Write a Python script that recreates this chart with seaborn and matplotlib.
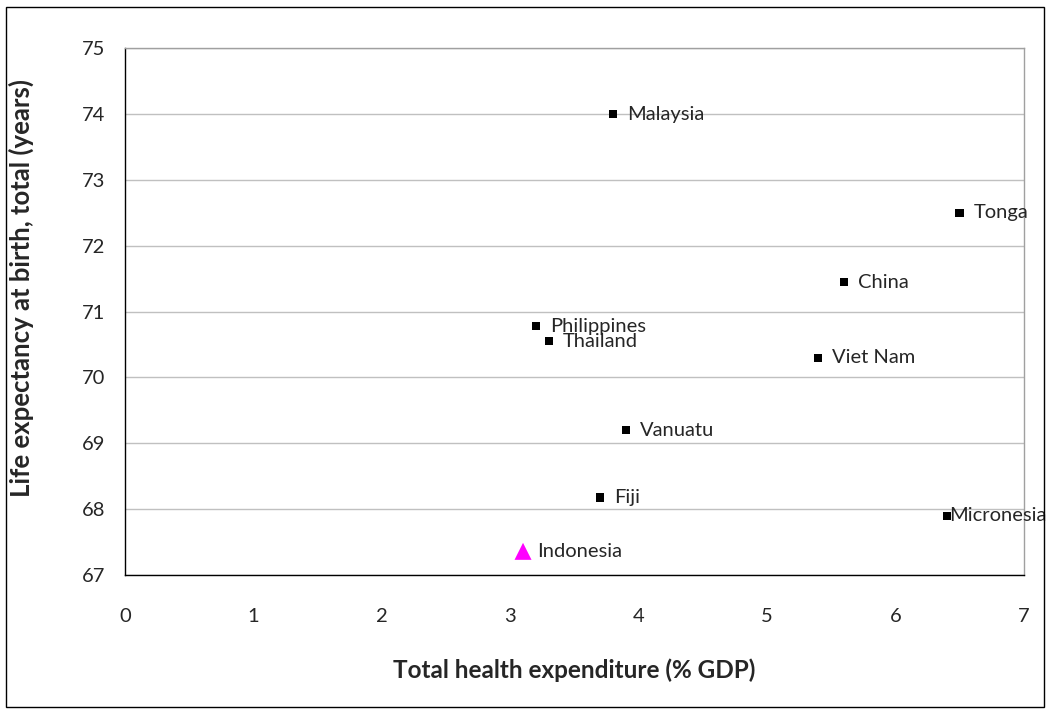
import matplotlib
matplotlib.use("Agg")
import matplotlib.pyplot as plt
import seaborn as sns
import pandas as pd
from matplotlib.patches import Rectangle

# Data
countries = ['Malaysia', 'Tonga', 'China', 'Philippines', 'Thailand',
             'Viet Nam', 'Vanuatu', 'Fiji', 'Micronesia']
health_exp = [3.8, 6.5, 5.6, 3.2, 3.3, 5.4, 3.9, 3.7, 6.4]
life_exp = [74.0, 72.5, 71.45, 70.78, 70.55, 70.3, 69.2, 68.18, 67.9]

highlight_country = ['Indonesia']
highlight_exp = [3.1]
highlight_life = [67.36]

x_ticks = [0, 1, 2, 3, 4, 5, 6, 7]
y_ticks = [67, 68, 69, 70, 71, 72, 73, 74, 75]

df = pd.DataFrame({'country': countries, 'exp': health_exp, 'life': life_exp})
df_hi = pd.DataFrame({'country': highlight_country, 'exp': highlight_exp, 'life': highlight_life})

sns.set_style('white')
plt.rcParams['font.family'] = ['Lato', 'DejaVu Sans']

fig = plt.figure(figsize=(10.49, 7.13), dpi=100)
ax = fig.add_axes([0.1192, 0.1935, 0.8567, 0.7388])

sns.scatterplot(data=df, x='exp', y='life', marker='s', color='black',
                s=36, edgecolor='none', ax=ax, zorder=3)
sns.scatterplot(data=df_hi, x='exp', y='life', marker='^', color='#ff00ff',
                s=150, edgecolor='none', ax=ax, zorder=3)

# point labels (Micronesia gets pushed left by the plot edge)
for _, row in df.iterrows():
    dx = 1.5 if row['country'] == 'Micronesia' else 10
    ax.annotate(row['country'], (row['exp'], row['life']), xytext=(dx, 0),
                textcoords='offset points', va='center', ha='left', fontsize=14.5,
                annotation_clip=False, zorder=4)
for _, row in df_hi.iterrows():
    ax.annotate(row['country'], (row['exp'], row['life']), xytext=(10, 0),
                textcoords='offset points', va='center', ha='left', fontsize=14.5,
                zorder=4)

ax.set_xlim(0, 7)
ax.set_ylim(67, 75)
ax.set_xticks(x_ticks)
ax.set_yticks(y_ticks)
ax.set_xticklabels([str(t) for t in x_ticks], fontsize=14.5)
ax.set_yticklabels([str(t) for t in y_ticks], fontsize=14.5)
ax.tick_params(axis='x', direction='out', length=6, width=1, color='black', pad=18)
ax.tick_params(axis='y', direction='out', length=6, width=1, color='black', pad=8)

ax.yaxis.grid(True, color='#c0c0c0', linewidth=1)
ax.xaxis.grid(False)
ax.set_axisbelow(True)

ax.spines['left'].set_color('black')
ax.spines['bottom'].set_color('black')
ax.spines['top'].set_color('#a0a0a0')
ax.spines['right'].set_color('#a0a0a0')
for s in ax.spines.values():
    s.set_linewidth(1)

ax.set_xlabel('Total health expenditure (% GDP)', fontsize=17.5, fontweight='bold')
ax.set_ylabel('Life expectancy at birth, total (years)', fontsize=18.5, fontweight='bold')
ax.xaxis.set_label_coords(0.5, -0.180)
ax.xaxis.label.set_va('center')
ax.yaxis.set_label_coords(-0.115, 0.545)
ax.yaxis.label.set_va('center')

# outer chart border
fig.patches.append(Rectangle((6 / 1049, 6 / 713), 1038 / 1049, 700 / 713,
                             transform=fig.transFigure, fill=False,
                             edgecolor='black', linewidth=1))

fig.savefig('out.png', dpi=100)
